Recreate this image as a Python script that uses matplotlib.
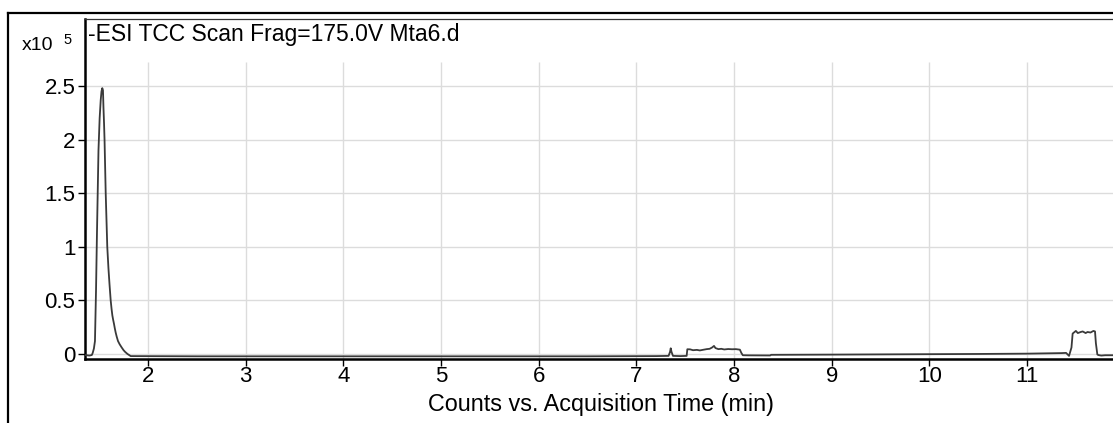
import matplotlib
matplotlib.use("Agg")
import matplotlib.pyplot as plt
from matplotlib.lines import Line2D

plt.rcParams['font.family'] = ['Liberation Sans', 'DejaVu Sans']

# Total ion chromatogram, intensity in units of 1e5 counts
time_min = [1.355, 1.40, 1.425, 1.434, 1.446, 1.457, 1.468, 1.477, 1.485, 1.493,
            1.505, 1.516, 1.524, 1.532, 1.539, 1.544, 1.550, 1.555, 1.567, 1.583,
            1.595, 1.606, 1.618, 1.627, 1.635, 1.643, 1.652, 1.660, 1.669, 1.680,
            1.693, 1.710, 1.731, 1.750, 1.765, 1.790, 1.823, 2.5, 3.5, 4.5, 5.5,
            6.5, 7.2, 7.33, 7.345, 7.352, 7.36, 7.375, 7.45, 7.515, 7.522, 7.55,
            7.58, 7.62, 7.65, 7.69, 7.72, 7.75, 7.775, 7.795, 7.81, 7.84, 7.87,
            7.90, 7.94, 7.98, 8.02, 8.06, 8.075, 8.09, 8.15, 8.37, 8.38, 9.0,
            9.5, 10.0, 10.5, 11.0, 11.35, 11.40, 11.43, 11.455, 11.467, 11.48,
            11.50, 11.52, 11.55, 11.57, 11.60, 11.62, 11.65, 11.68, 11.696,
            11.705, 11.72, 11.73, 11.76, 11.80, 11.88]
intensity = [-0.01, -0.015, -0.01, 0.01, 0.05, 0.12, 0.60, 1.10, 1.50, 1.90,
             2.20, 2.37, 2.45, 2.48, 2.46, 2.30, 2.15, 2.00, 1.50, 1.00,
             0.80, 0.65, 0.50, 0.42, 0.36, 0.32, 0.28, 0.24, 0.20, 0.16,
             0.12, 0.09, 0.06, 0.035, 0.02, 0.00, -0.02, -0.022, -0.022, -0.022, -0.022,
             -0.022, -0.02, -0.018, 0.02, 0.053, 0.02, -0.018, -0.02, -0.018, 0.044, 0.043,
             0.035, 0.038, 0.033, 0.040, 0.045, 0.048, 0.060, 0.075, 0.055, 0.045, 0.048,
             0.042, 0.046, 0.044, 0.045, 0.040, 0.010, -0.012, -0.013, -0.014, -0.008, -0.006,
             -0.004, -0.002, 0.000, 0.003, 0.008, 0.010, -0.018, 0.060, 0.190, 0.200,
             0.215, 0.195, 0.205, 0.210, 0.195, 0.205, 0.200, 0.215, 0.210,
             0.100, -0.005, -0.010, -0.015, -0.012, -0.012]

x_ticks = [2, 3, 4, 5, 6, 7, 8, 9, 10, 11]
y_ticks = [0, 0.5, 1, 1.5, 2, 2.5]
y_tick_labels = ["0", "0.5", "1", "1.5", "2", "2.5"]
title_text = "-ESI TCC Scan Frag=175.0V Mta6.d"
x_label = "Counts vs. Acquisition Time (min)"

W, H = 1113, 423
fig = plt.figure(figsize=(W / 100, H / 100), dpi=100)

# plot area (extends past the right edge of the canvas)
left_px, right_px, top_px, bottom_px = 85, 1124.7, 19, 359
ax = fig.add_axes([left_px / W, (H - bottom_px) / H,
                   (right_px - left_px) / W, (bottom_px - top_px) / H])

xmin, xmax = 1.355, 12.0
ymin, ymax = -0.047, 3.125
ax.set_xlim(xmin, xmax)
ax.set_ylim(ymin, ymax)

grid_color = "#dcdcdc"
grid_top = 2.727
for yt in y_ticks:
    ax.axhline(yt, color=grid_color, lw=1.0, zorder=0)
ax.vlines(x_ticks, ymin, grid_top, color=grid_color, lw=1.0, zorder=0)

ax.plot(time_min, intensity, color="#3a3a3a", lw=1.3, zorder=3)

ax.set_xticks(x_ticks)
ax.set_xticklabels([str(t) for t in x_ticks])
ax.set_yticks(y_ticks)
ax.set_yticklabels(y_tick_labels)
ax.tick_params(axis="both", direction="out", length=5, width=1.0,
               labelsize=16, colors="black")
ax.tick_params(axis="x", pad=0)
ax.tick_params(axis="y", pad=2)

for side in ("left", "bottom"):
    ax.spines[side].set_linewidth(1.8)
    ax.spines[side].set_color("black")
ax.spines["top"].set_linewidth(0.9)
ax.spines["top"].set_color("#333333")
ax.spines["right"].set_visible(False)

fig.text(601 / W, 1 - 404 / H, x_label, fontsize=16.8, va="center", ha="center")

fig.text(88 / W, 1 - 35 / H, title_text, fontsize=16.5, va="center", ha="left")
fig.text(22 / W, 1 - 46 / H, "x10", fontsize=14, va="center", ha="left")
fig.text(63 / W, 1 - 40 / H, "5", fontsize=10.5, va="center", ha="left")

# outer frame lines
fig.add_artist(Line2D([8 / W, 1.0], [1 - 13 / H, 1 - 13 / H],
                      transform=fig.transFigure, color="black", lw=1.6))
fig.add_artist(Line2D([8 / W, 8 / W], [0, 1 - 13 / H],
                      transform=fig.transFigure, color="black", lw=1.6))

fig.savefig("out.png", dpi=100)
